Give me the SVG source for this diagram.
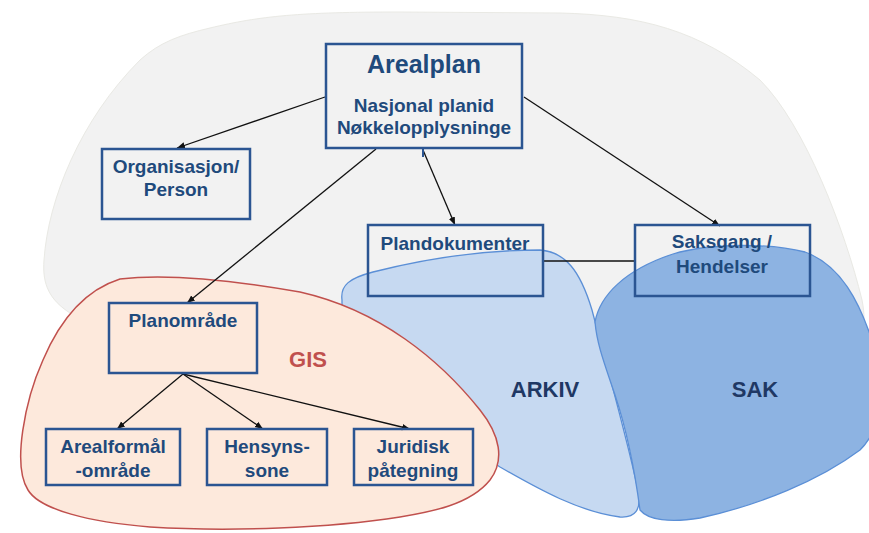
<svg xmlns="http://www.w3.org/2000/svg" width="869" height="533" viewBox="0 0 869 533">
<defs>
<style>
.box{fill:none;stroke:#2b5592;stroke-width:2.5}
.t{font-family:"Liberation Sans",Arial,sans-serif;font-weight:bold;font-size:19px;fill:#1f4a7c;text-anchor:middle}
.big{font-size:25px}
.lbl{font-family:"Liberation Sans",Arial,sans-serif;font-weight:bold;font-size:22px;text-anchor:middle}
.c{stroke:#111;stroke-width:1.3;fill:none}
</style>
<marker id="arr" viewBox="0 0 10 10" refX="10" refY="5" markerWidth="8" markerHeight="8" markerUnits="userSpaceOnUse" orient="auto">
<path d="M0,1 L10,5 L0,9 Z" fill="#111"/>
</marker>
</defs>
<rect width="869" height="533" fill="#fff"/>
<g id="blobs">
<path id="bg" d="M70 313 C50 300 42 285 44 260 C48 200 80 120 140 60 C160 42 180 35 210 28 C260 16 300 12 400 12 L560 13 C640 15 700 30 760 80 C805 125 845 230 862 300 C868 330 860 340 840 340 L600 330 L340 310 Z" fill="#f2f2f2" stroke="#e9e9e4" stroke-width="1"/>
<path id="arkiv" d="M342 300 C340 285 350 278 373 272 C420 260 480 250 540 250 C565 252 580 270 592 310 C605 360 625 430 638 490 C642 510 635 518 620 517 C580 512 540 490 500 467 L430 420 L342 320 Z" fill="#c6d9f1" stroke="#5b8fd6" stroke-width="1.3"/>
<path id="sak" d="M595 322 C600 295 625 270 673 254 C710 243 770 243 805 252 C840 265 860 300 875 350 C885 400 880 430 860 450 C820 480 760 505 700 518 C670 523 648 520 640 510 C636 480 630 440 615 395 C605 365 597 345 595 322 Z" fill="#8db3e2" stroke="#5b8fd6" stroke-width="1.3"/>
<path id="gis" d="M120 279 C160 274 220 278 300 292 C380 310 440 360 480 410 C500 435 505 460 490 480 C470 505 430 512 400 517 C330 528 230 532 150 527 C90 522 40 510 28 490 C12 465 25 400 43 360 C60 320 85 290 120 279 Z" fill="#fde9dc" stroke="#c0504d" stroke-width="1.5"/>
<text class="lbl" x="308" y="367" fill="#c0504d">GIS</text>
<text class="lbl" x="545" y="397" fill="#1f3864">ARKIV</text>
<text class="lbl" x="755" y="397" fill="#1f3864">SAK</text>
</g>
<g id="connectors">
<line class="c" x1="325" y1="97" x2="177" y2="148" marker-end="url(#arr)"/>
<line class="c" x1="376" y1="149" x2="187" y2="303" marker-end="url(#arr)"/>
<line class="c" x1="423" y1="150" x2="455" y2="225" marker-end="url(#arr)"/>
<line class="c" x1="524" y1="97" x2="720" y2="226" marker-end="url(#arr)"/>
<line class="c" x1="183" y1="374" x2="117" y2="429" marker-end="url(#arr)"/>
<line class="c" x1="183" y1="374" x2="263" y2="429" marker-end="url(#arr)"/>
<line class="c" x1="183" y1="374" x2="410" y2="429" marker-end="url(#arr)"/>
<line class="c" x1="543" y1="261" x2="635" y2="261"/>
<line x1="423" y1="149" x2="423" y2="157" stroke="#2b5592" stroke-width="2"/>
</g>
<g id="arealplan">
<rect class="box" x="326" y="44" width="196" height="104"/>
<text class="t big" x="424" y="73">Arealplan</text>
<text class="t" x="424" y="112">Nasjonal planid</text>
<text class="t" x="424" y="134">Nøkkelopplysninge</text>
</g>
<g id="organisasjon">
<rect class="box" x="102" y="149" width="148" height="70"/>
<text class="t" x="176" y="173">Organisasjon/</text>
<text class="t" x="176" y="196">Person</text>
</g>
<g id="plandokumenter">
<rect class="box" x="368" y="225" width="175" height="71"/>
<text class="t" x="455" y="250">Plandokumenter</text>
</g>
<g id="saksgang">
<rect class="box" x="635" y="225" width="175" height="71"/>
<text class="t" x="722" y="248">Saksgang /</text>
<text class="t" x="722" y="273">Hendelser</text>
</g>
<g id="planomrade">
<rect class="box" x="109" y="303" width="148" height="70"/>
<text class="t" x="183" y="327">Planområde</text>
</g>
<g id="arealformal">
<rect class="box" x="46" y="429" width="134" height="56"/>
<text class="t" x="113" y="453">Arealformål</text>
<text class="t" x="113" y="477">-område</text>
</g>
<g id="hensynssone">
<rect class="box" x="207" y="429" width="120" height="56"/>
<text class="t" x="267" y="453">Hensyns-</text>
<text class="t" x="267" y="477">sone</text>
</g>
<g id="juridisk">
<rect class="box" x="354" y="429" width="119" height="56"/>
<text class="t" x="413" y="453">Juridisk</text>
<text class="t" x="413" y="477">påtegning</text>
</g>
</svg>
